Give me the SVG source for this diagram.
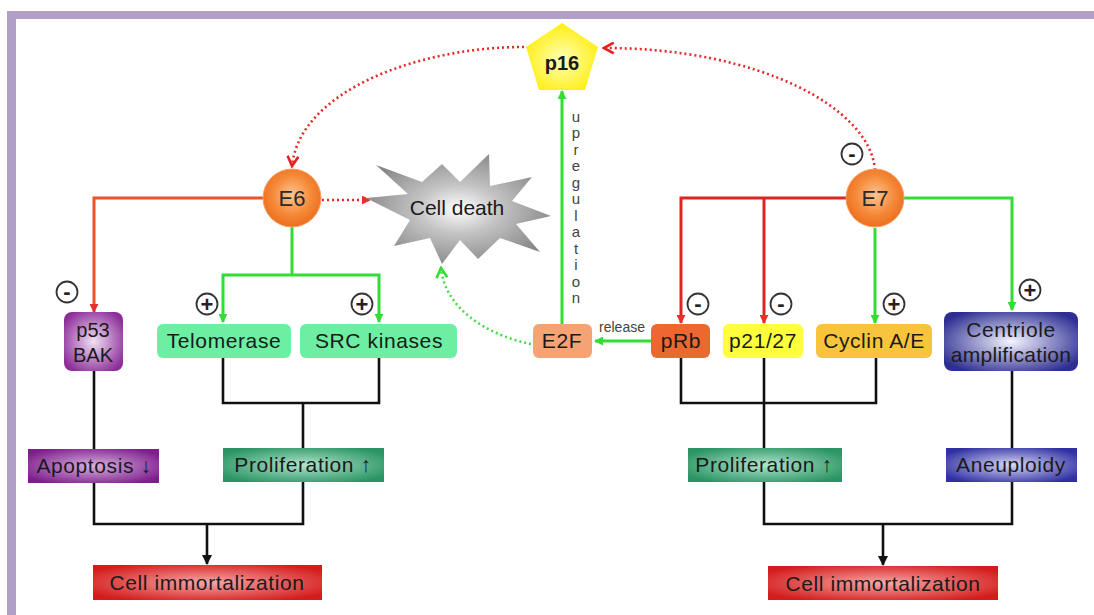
<svg xmlns="http://www.w3.org/2000/svg" width="1094" height="615" viewBox="0 0 1094 615">
<defs>
<style>
.t{font-family:"Liberation Sans","DejaVu Sans",Arial,sans-serif;fill:#1a1a1a;text-anchor:middle}
.bx{font-size:21px;letter-spacing:0.6px}
.rl{fill:none;stroke:#F0502A;stroke-width:3}
.rl2{fill:none;stroke:#E02424;stroke-width:3}
.gl{fill:none;stroke:#33DD33;stroke-width:3}
.kl{fill:none;stroke:#111;stroke-width:2.6}
.rd{fill:none;stroke:#E82828;stroke-width:2.6;stroke-dasharray:2 3}
.gd{fill:none;stroke:#44DD44;stroke-width:2.6;stroke-dasharray:2 3}
.sg{fill:#fff;stroke:#333;stroke-width:1.8}
.sgt{font-family:"Liberation Sans","DejaVu Sans",sans-serif;font-size:22px;font-weight:bold;fill:#222;text-anchor:middle}
</style>
<radialGradient id="gOr" cx="50%" cy="45%" r="55%"><stop offset="0" stop-color="#FFC490"/><stop offset="0.6" stop-color="#F58A3A"/><stop offset="1" stop-color="#EC6E1E"/></radialGradient>
<radialGradient id="gStar" cx="50%" cy="50%" r="55%"><stop offset="0" stop-color="#FFFFFF"/><stop offset="0.4" stop-color="#C4C4C4"/><stop offset="1" stop-color="#858585"/></radialGradient>
<radialGradient id="gYel" cx="50%" cy="55%" r="55%"><stop offset="0" stop-color="#FFFFB8"/><stop offset="1" stop-color="#FFEE10"/></radialGradient>
<radialGradient id="gP53" cx="50%" cy="50%" r="60%"><stop offset="0" stop-color="#F0E0F4"/><stop offset="1" stop-color="#8C2C98"/></radialGradient>
<radialGradient id="gApo" cx="50%" cy="50%" r="60%"><stop offset="0" stop-color="#D8B0E0"/><stop offset="1" stop-color="#7E1E8C"/></radialGradient>
<radialGradient id="gPro" cx="50%" cy="50%" r="60%"><stop offset="0" stop-color="#B0E4CC"/><stop offset="1" stop-color="#2A9464"/></radialGradient>
<radialGradient id="gRed" cx="50%" cy="50%" r="60%"><stop offset="0" stop-color="#F8A8A8"/><stop offset="1" stop-color="#D41C1C"/></radialGradient>
<radialGradient id="gBlu" cx="50%" cy="50%" r="60%"><stop offset="0" stop-color="#F4F4FF"/><stop offset="1" stop-color="#2E2E92"/></radialGradient>
<radialGradient id="gBlu2" cx="50%" cy="50%" r="60%"><stop offset="0" stop-color="#D8D8F8"/><stop offset="1" stop-color="#3030A2"/></radialGradient>
<marker id="aR" viewBox="0 0 10 10" refX="9" refY="5" markerWidth="9" markerHeight="9" markerUnits="userSpaceOnUse" orient="auto"><path d="M0,0 L10,5 L0,10 z" fill="#E8302A"/></marker>
<marker id="aG" viewBox="0 0 10 10" refX="9" refY="5" markerWidth="9" markerHeight="9" markerUnits="userSpaceOnUse" orient="auto"><path d="M0,0 L10,5 L0,10 z" fill="#33DD33"/></marker>
<marker id="aK" viewBox="0 0 10 10" refX="9" refY="5" markerWidth="10" markerHeight="10" markerUnits="userSpaceOnUse" orient="auto"><path d="M0,0 L10,5 L0,10 z" fill="#111"/></marker>
<marker id="cR" viewBox="0 0 12 12" refX="10" refY="6" markerWidth="13" markerHeight="13" markerUnits="userSpaceOnUse" orient="auto"><path d="M1,1 L10,6 L1,11" fill="none" stroke="#E82020" stroke-width="2.4"/></marker>
<marker id="cG" viewBox="0 0 12 12" refX="10" refY="6" markerWidth="13" markerHeight="13" markerUnits="userSpaceOnUse" orient="auto"><path d="M1,1 L10,6 L1,11" fill="none" stroke="#33DD33" stroke-width="2.4"/></marker>
</defs>
<rect width="1094" height="615" fill="#fff"/>
<g id="frame">
<rect x="7" y="11" width="1087" height="8" fill="#B0A0C8"/>
<rect x="7" y="11" width="9" height="604" fill="#B0A0C8"/>
</g>
<g id="connectors">
<path class="rl" d="M264,198 H94 V312" marker-end="url(#aR)"/>
<path class="gl" d="M292,227 V275"/>
<path class="gl" d="M292,275 H223 V322" marker-end="url(#aG)"/>
<path class="gl" d="M292,275 H379 V322" marker-end="url(#aG)"/>
<path class="rd" d="M322,200 H370" marker-end="url(#aR)"/>
<path class="rd" d="M524,47 C420,47 300,90 292,166" marker-end="url(#cR)"/>
<path class="rd" d="M875,170 C870,108 760,48 604,48" marker-end="url(#cR)"/>
<path class="rl2" d="M847,198 H681 V323" marker-end="url(#aR)"/>
<path class="rl2" d="M764,198 V323" marker-end="url(#aR)"/>
<path class="gl" d="M903,198 H1012 V310" marker-end="url(#aG)"/>
<path class="gl" d="M875,228 V323" marker-end="url(#aG)"/>
<path class="gl" d="M651,341 H595" marker-end="url(#aG)"/>
<path class="gl" d="M562,324 V91" marker-end="url(#aG)"/>
<path class="gd" d="M531,344 C490,336 445,310 441,268" marker-end="url(#cG)"/>
<path class="kl" d="M223,358 V403 H379 V358 M303,403 V448"/>
<path class="kl" d="M94,371 V449"/>
<path class="kl" d="M94,483 V524 H303 V482"/>
<path class="kl" d="M207,524 V564" marker-end="url(#aK)"/>
<path class="kl" d="M681,358 V403 H876 V358 M764,358 V448"/>
<path class="kl" d="M1012,371 V448"/>
<path class="kl" d="M764,482 V524 H1012 V482"/>
<path class="kl" d="M883,524 V565" marker-end="url(#aK)"/>
</g>
<g id="p16">
<polygon points="562,23 598,47 585,90 539,90 526,47" fill="url(#gYel)"/>
<text class="t" x="562" y="70" font-size="20" font-weight="bold">p16</text>
</g>
<g id="upregulation">
<text class="t" font-size="15" style="fill:#444">
<tspan x="576" y="122">u</tspan><tspan x="576" y="138">p</tspan><tspan x="576" y="155">r</tspan><tspan x="576" y="171">e</tspan><tspan x="576" y="188">g</tspan><tspan x="576" y="204">u</tspan><tspan x="576" y="221">l</tspan><tspan x="576" y="237">a</tspan><tspan x="576" y="254">t</tspan><tspan x="576" y="270">i</tspan><tspan x="576" y="287">o</tspan><tspan x="576" y="303">n</tspan>
</text>
</g>
<g id="release"><text class="t" x="622" y="332" font-size="14" style="fill:#444">release</text></g>
<g id="celldeath">
<polygon points="366,198 408,194 376,165 422,182 442,164 460,182 489,154 490,186 532,177 512,201 551,216 516,224 540,252 500,238 478,259 460,240 442,264 430,238 394,246 410,220" fill="url(#gStar)"/>
<text class="t" x="457" y="215" font-size="21">Cell death</text>
</g>
<g id="E6">
<circle cx="292" cy="198" r="29" fill="url(#gOr)" stroke="#F6A060" stroke-width="1"/>
<text class="t" x="292" y="206" font-size="22" style="fill:#2a2a2a">E6</text>
</g>
<g id="E7">
<circle cx="875" cy="198" r="29" fill="url(#gOr)" stroke="#F6A060" stroke-width="1"/>
<text class="t" x="875" y="206" font-size="22" style="fill:#2a2a2a">E7</text>
</g>
<g id="signs">
<circle class="sg" cx="67" cy="292" r="10.5"/><text class="sgt" x="67" y="299">-</text>
<circle class="sg" cx="207" cy="304" r="10.5"/><text class="sgt" x="207" y="312">+</text>
<circle class="sg" cx="362" cy="304" r="10.5"/><text class="sgt" x="362" y="312">+</text>
<circle class="sg" cx="852" cy="154" r="10.5"/><text class="sgt" x="852" y="161">-</text>
<circle class="sg" cx="698" cy="304" r="10.5"/><text class="sgt" x="698" y="311">-</text>
<circle class="sg" cx="781" cy="304" r="10.5"/><text class="sgt" x="781" y="311">-</text>
<circle class="sg" cx="894" cy="304" r="10.5"/><text class="sgt" x="894" y="312">+</text>
<circle class="sg" cx="1030" cy="290" r="10.5"/><text class="sgt" x="1030" y="298">+</text>
</g>
<g id="p53BAK">
<rect x="64" y="312" width="59" height="59" rx="8" fill="url(#gP53)"/>
<text class="t" x="93" y="337" font-size="20">p53</text>
<text class="t" x="93" y="362" font-size="20">BAK</text>
</g>
<g id="telomerase">
<rect x="157" y="324" width="134" height="34" rx="6" fill="#6CEFA2"/>
<text class="t bx" x="224" y="348">Telomerase</text>
</g>
<g id="src">
<rect x="300" y="324" width="157" height="34" rx="6" fill="#6CEFA2"/>
<text class="t bx" x="379" y="348">SRC kinases</text>
</g>
<g id="apoptosis">
<rect x="28" y="449" width="131" height="34" fill="url(#gApo)"/>
<text class="t bx" x="94" y="473">Apoptosis ↓</text>
</g>
<g id="proliferationL">
<rect x="223" y="448" width="161" height="34" fill="url(#gPro)"/>
<text class="t bx" x="303" y="472">Proliferation ↑</text>
</g>
<g id="immortalL">
<rect x="93" y="565" width="229" height="35" fill="url(#gRed)"/>
<text class="t bx" x="207" y="590">Cell immortalization</text>
</g>
<g id="E2F">
<rect x="533" y="324" width="59" height="34" rx="6" fill="#F5A274"/>
<text class="t bx" x="562" y="348">E2F</text>
</g>
<g id="pRb">
<rect x="651" y="324" width="59" height="34" rx="6" fill="#EC6830"/>
<text class="t bx" x="681" y="348">pRb</text>
</g>
<g id="p2127">
<rect x="723" y="324" width="80" height="34" rx="6" fill="#FFFF3C"/>
<text class="t bx" x="763" y="348">p21/27</text>
</g>
<g id="cyclin">
<rect x="816" y="324" width="116" height="34" rx="6" fill="#F8C43C"/>
<text class="t bx" x="874" y="348">Cyclin A/E</text>
</g>
<g id="centriole">
<rect x="944" y="312" width="134" height="59" rx="8" fill="url(#gBlu)"/>
<text class="t bx" x="1011" y="337">Centriole</text>
<text class="t bx" x="1011" y="362" style="letter-spacing:0.3px">amplification</text>
</g>
<g id="proliferationR">
<rect x="688" y="448" width="154" height="34" fill="url(#gPro)"/>
<text class="t bx" x="764" y="472">Proliferation ↑</text>
</g>
<g id="aneuploidy">
<rect x="946" y="448" width="131" height="34" fill="url(#gBlu2)"/>
<text class="t bx" x="1011" y="472">Aneuploidy</text>
</g>
<g id="immortalR">
<rect x="768" y="566" width="230" height="34" fill="url(#gRed)"/>
<text class="t bx" x="883" y="591">Cell immortalization</text>
</g>
</svg>
